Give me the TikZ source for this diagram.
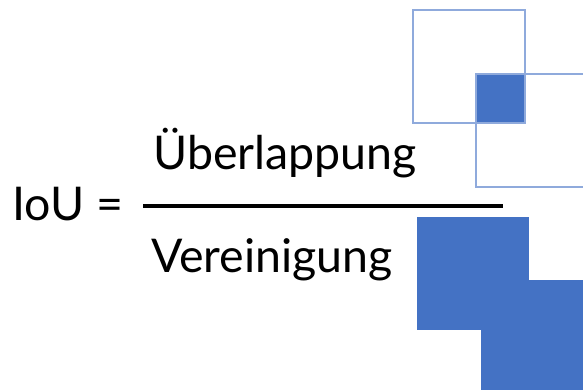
\documentclass[tikz,border=0pt]{standalone}
\usepackage{fontspec}
\setmainfont{Lato}
\definecolor{boxblue}{HTML}{4472C4}
\definecolor{lineblue}{HTML}{8FAADC}
\begin{document}
\begin{tikzpicture}[x=1pt,y=-1pt,
  txt/.style={anchor=base west,inner sep=0pt,font=\fontsize{46.5}{52}\selectfont,text=black},
  outl/.style={draw=lineblue,line width=1.3pt},
  filled/.style={fill=boxblue}]
\useasboundingbox (0,0) rectangle (583,390);
% overlap illustration
\fill[filled] (476,74) rectangle (525,123);
\draw[outl] (413,10) rectangle (525,123);
\draw[outl] (476,74) rectangle (590,187);
% union illustration
\fill[filled] (417,217) rectangle (529,330);
\fill[filled] (481,280) rectangle (595,395);
% formula
\node[txt] (iou) at (12,220) {IoU =};
\node[txt] (num) at (153,170) {Überlappung};
\node[txt] (den) at (151,272) {Vereinigung};
\coordinate (barL) at (143,206);
\coordinate (barR) at (503,206);
\draw[line width=4pt] (barL) -- (barR);
\end{tikzpicture}
\end{document}
